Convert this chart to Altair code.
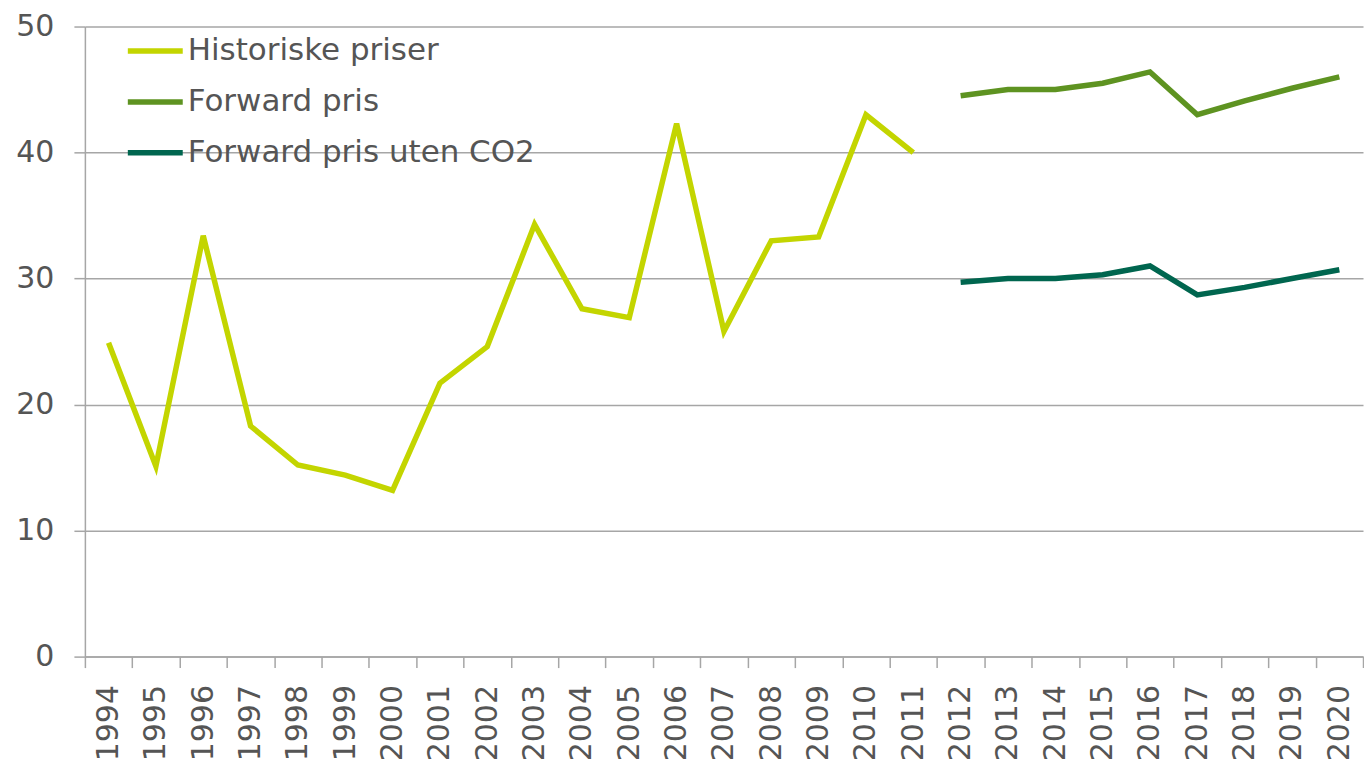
import altair as alt
import pandas as pd

years_hist = [str(y) for y in range(1994, 2012)]
hist_values = [24.9, 15.1, 33.4, 18.3, 15.2, 14.4, 13.2, 21.7, 24.6, 34.3,
               27.6, 26.9, 42.3, 25.8, 33.0, 33.3, 43.0, 40.0]

years_fwd = [str(y) for y in range(2012, 2021)]
fwd_values = [44.5, 45.0, 45.0, 45.5, 46.4, 43.0, 44.1, 45.1, 46.0]
fwd_noco2_values = [29.7, 30.0, 30.0, 30.3, 31.0, 28.7, 29.3, 30.0, 30.7]

series_names = ["Historiske priser", "Forward pris", "Forward pris uten CO2"]
series_colors = ["#C3D500", "#5E9321", "#00664F"]
all_years = [str(y) for y in range(1994, 2021)]

rows = []
for y, v in zip(years_hist, hist_values):
    rows.append({"year": y, "value": v, "series": series_names[0]})
for y, v in zip(years_fwd, fwd_values):
    rows.append({"year": y, "value": v, "series": series_names[1]})
for y, v in zip(years_fwd, fwd_noco2_values):
    rows.append({"year": y, "value": v, "series": series_names[2]})
df = pd.DataFrame(rows)

FONT = "DejaVu Sans"
GRAY = "#A6A6A6"
TEXT = "#555555"

chart = alt.Chart(df).mark_line(strokeWidth=5.5, strokeCap="butt", strokeJoin="miter").encode(
    x=alt.X("year:O", bandPosition=0.5,
            scale=alt.Scale(type="band", domain=all_years, paddingInner=0, paddingOuter=0),
            axis=alt.Axis(title=None, labelAngle=-90, labelFontSize=30, labelFont=FONT,
                          labelColor=TEXT, tickBand="extent", tickSize=11, tickColor=GRAY,
                          tickWidth=1.5, domainColor=GRAY, domainWidth=1.5, labelPadding=17,
                          grid=False)),
    y=alt.Y("value:Q",
            scale=alt.Scale(domain=[0, 50], nice=False),
            axis=alt.Axis(title=None, values=[0, 10, 20, 30, 40, 50], labelFontSize=30,
                          labelFont=FONT, labelColor=TEXT, tickSize=11, tickColor=GRAY,
                          tickWidth=1.5, domainColor=GRAY, domainWidth=1.5, labelPadding=20,
                          grid=True, gridColor=GRAY, gridWidth=1.5)),
    color=alt.Color("series:N",
                    scale=alt.Scale(domain=series_names, range=series_colors),
                    legend=alt.Legend(title=None, orient="none", legendX=40, legendY=-6,
                                      symbolType="stroke", symbolSize=3025,
                                      symbolStrokeWidth=5.5, labelFontSize=31, labelFont=FONT,
                                      labelColor=TEXT, rowPadding=5, labelOffset=2,
                                      padding=0, labelLimit=600)),
    detail="series:N",
).properties(
    width=1280,
    height=631,
    padding={"left": 7, "top": 3, "right": 0, "bottom": 0},
).configure_view(stroke=None)

chart.save("out.html", embed_options={"renderer": "svg", "actions": False})
